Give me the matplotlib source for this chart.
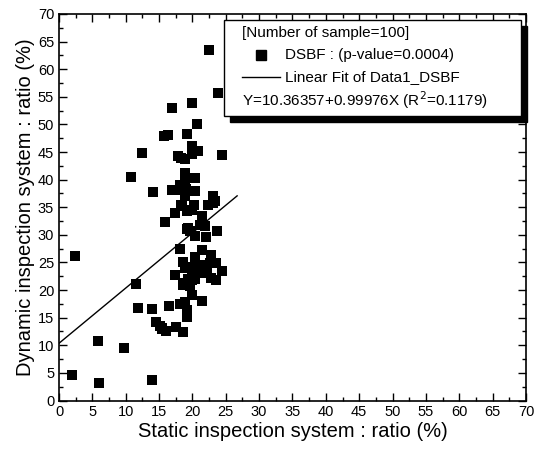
import matplotlib
matplotlib.use("Agg")
import matplotlib.pyplot as plt
import numpy as np
from matplotlib.patches import Rectangle
from matplotlib.ticker import MultipleLocator

plt.rcParams['font.family'] = ['Liberation Sans', 'DejaVu Sans']

# static ratio (%) vs dynamic ratio (%)
static_x = [22.55, 23.9, 17.0, 19.9, 20.7, 15.8, 16.4, 19.25, 12.5, 17.9,
            18.85, 20.0, 20.0, 20.9, 24.4, 10.85, 18.85, 18.85, 20.4, 14.1,
            17.0, 18.3, 19.05, 20.4, 18.85, 23.05, 17.4, 15.9, 18.45, 19.15,
            19.9, 20.3, 21.5, 22.4, 23.15, 21.2, 21.85, 19.15, 19.6, 20.4,
            22.05, 23.7, 18.2, 21.4, 2.4, 18.65, 18.85, 19.4, 19.9, 20.4,
            20.6, 20.9, 21.4, 21.65, 22.15, 22.85, 22.75, 23.5, 23.5, 24.4,
            22.75, 17.4, 18.65, 19.15, 19.6, 20.4, 19.9, 19.4, 11.5, 20.0,
            21.4, 11.9, 14.0, 16.5, 18.15, 18.85, 19.25, 19.15, 14.5, 15.15,
            15.5, 16.0, 15.4, 17.6, 18.65, 5.9, 9.8, 14.0, 1.9, 6.0,
            18.35, 18.2, 19.6, 23.4, 18.35, 19.4, 20.4, 22.65, 18.65, 21.4]
dynamic_y = [63.45, 55.65, 52.95, 53.85, 50.15, 47.85, 48.15, 48.25, 44.85, 44.25,
             43.65, 46.05, 44.55, 45.15, 44.45, 40.55, 41.15, 39.95, 40.25, 37.75,
             38.15, 38.15, 38.25, 37.85, 36.95, 37.05, 33.95, 32.25, 35.15, 34.25,
             34.45, 35.45, 33.45, 35.45, 35.75, 31.85, 31.65, 31.05, 30.65, 29.75,
             29.55, 30.65, 27.45, 27.25, 26.25, 25.15, 23.95, 24.25, 23.65, 25.45,
             24.25, 23.55, 24.55, 23.95, 23.05, 26.35, 25.15, 24.95, 21.85, 23.45,
             22.25, 22.75, 20.95, 20.95, 20.75, 21.95, 21.85, 21.95, 21.05, 19.05,
             17.95, 16.75, 16.55, 17.15, 17.45, 17.75, 16.45, 15.15, 14.25, 13.55,
             13.2, 12.65, 12.95, 13.25, 12.35, 10.75, 9.45, 3.75, 4.55, 3.15,
             43.95, 39.05, 37.85, 36.05, 35.45, 31.25, 26.05, 24.85, 21.25, 23.05]

intercept = 10.36357
slope = 0.99976
fit_x = [0, 26.7]

fig = plt.figure(figsize=(5.34, 4.5), dpi=100)
ax = fig.add_axes([0.1105, 0.11, 0.8745, 0.859])

ax.plot(static_x, dynamic_y, 's', color='black', ms=7.5, mew=0)
fx = np.array(fit_x)
ax.plot(fx, intercept + slope * fx, color='black', lw=1.0)

ax.set_xlim(0, 70)
ax.set_ylim(0, 70)
ax.xaxis.set_major_locator(MultipleLocator(5))
ax.xaxis.set_minor_locator(MultipleLocator(2.5))
ax.yaxis.set_major_locator(MultipleLocator(5))
ax.yaxis.set_minor_locator(MultipleLocator(2.5))
ax.tick_params(which='both', direction='in', top=True, right=True, labelsize=10.5, width=1)
ax.tick_params(which='major', length=6)
ax.tick_params(which='minor', length=3)
for s in ax.spines.values():
    s.set_linewidth(1.2)

ax.set_xlabel('Static inspection system : ratio (%)', fontsize=14.5, labelpad=2)
ax.set_ylabel('Dynamic inspection system : ratio (%)', fontsize=14.5, labelpad=2)

# legend box with shadow, in axes fraction
x0, x1, y0, y1 = 0.353, 0.989, 0.736, 0.984
ax.add_patch(Rectangle((x0 + 0.013, y0 - 0.016), x1 - x0, y1 - y0, transform=ax.transAxes,
                       facecolor='black', edgecolor='black', zorder=5, clip_on=False))
ax.add_patch(Rectangle((x0, y0), x1 - x0, y1 - y0, transform=ax.transAxes,
                       facecolor='white', edgecolor='black', lw=1, zorder=6, clip_on=False))
tx = 0.392
ax.text(tx, 0.95, '[Number of sample=100]', transform=ax.transAxes, fontsize=11,
        va='center', zorder=7)
ax.plot([0.432], [0.893], 's', color='black', ms=7.5, transform=ax.transAxes, zorder=7, clip_on=False)
ax.text(0.484, 0.893, 'DSBF : (p-value=0.0004)', transform=ax.transAxes, fontsize=11,
        va='center', zorder=7)
ax.plot([tx, 0.474], [0.838, 0.838], color='black', lw=1, transform=ax.transAxes, zorder=7)
ax.text(0.484, 0.838, 'Linear Fit of Data1_DSBF', transform=ax.transAxes, fontsize=11,
        va='center', zorder=7)
ax.text(tx, 0.777, 'Y=10.36357+0.99976X (R$^2$=0.1179)', transform=ax.transAxes, fontsize=11,
        va='center', zorder=7)

fig.savefig('out.png', dpi=100)
